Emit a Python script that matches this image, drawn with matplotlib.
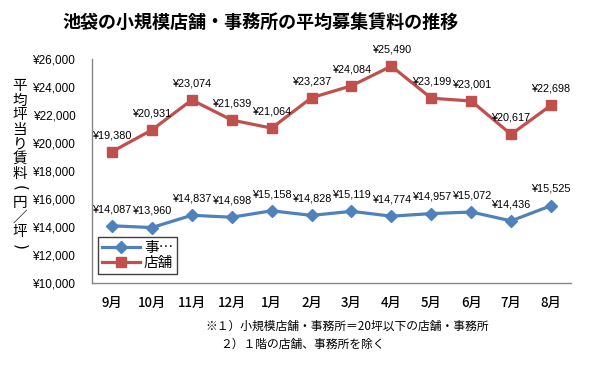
import numpy as np
import matplotlib
matplotlib.use("Agg")
import matplotlib.pyplot as plt

plt.rcParams['font.family'] = ['Liberation Sans', 'Noto Sans CJK JP', 'DejaVu Sans']
CJK = ['Noto Sans CJK JP', 'DejaVu Sans']

months = ['9月', '10月', '11月', '12月', '1月', '2月', '3月', '4月', '5月', '6月', '7月', '8月']
office = [14087, 13960, 14837, 14698, 15158, 14828, 15119, 14774, 14957, 15072, 14436, 15525]
shop = [19380, 20931, 23074, 21639, 21064, 23237, 24084, 25490, 23199, 23001, 20617, 22698]
yticks = np.arange(10000, 26001, 2000)

blue = '#4F81BD'
red = '#C0504D'

fig = plt.figure(figsize=(6, 3.66), dpi=100)
ax = fig.add_axes([92/600, 1-283/366, (571-92)/600, (283-59)/366])

x = np.arange(len(months))
ax.plot(x, office, color=blue, lw=2.3, marker='D', ms=6, label='事…')
ax.plot(x, shop, color=red, lw=2.3, marker='s', ms=7, label='店舗')

for xi, v in zip(x, office):
    ax.annotate('¥{:,}'.format(v), (xi, v), xytext=(0, 12), textcoords='offset points',
                ha='center', va='center', fontsize=7.8)
for xi, v in zip(x, shop):
    ax.annotate('¥{:,}'.format(v), (xi, v), xytext=(0, 12), textcoords='offset points',
                ha='center', va='center', fontsize=7.8)

ax.set_xlim(-0.5, len(months) - 0.5)
ax.set_ylim(10000, 26000)
ax.set_yticks(yticks)
ax.set_yticklabels(['¥{:,}'.format(t) for t in yticks], fontsize=8.5)
ax.set_xticks(x)
ax.set_xticklabels(months, family=CJK, fontsize=9.5, fontweight='medium')
ax.tick_params(length=0)
ax.tick_params(axis='y', pad=12)
ax.tick_params(axis='x', pad=9)
for s in ['top', 'right']:
    ax.spines[s].set_visible(False)
for s in ['left', 'bottom']:
    ax.spines[s].set_color('#868686')
    ax.spines[s].set_linewidth(1)

leg = ax.legend(loc='lower left', bbox_to_anchor=(6/479, 9/224), prop={'family': CJK, 'size': 10.5},
                fancybox=False, edgecolor='#404040', framealpha=1, handlelength=2.6,
                borderpad=0.25, labelspacing=0.1, handletextpad=0.3, borderaxespad=0)
leg.get_frame().set_linewidth(1)

fig.text(260/600, 1-22/366, '池袋の小規模店舗・事務所の平均募集賃料の推移', family=CJK,
         fontsize=13, fontweight='bold', ha='center', va='center')

# vertical y label, one character per line; brackets turned on their side
ylabel = ['平', '均', '坪', '当', 'り', '賃', '料', '(', '円', '／', '坪', ')']
for i, ch in enumerate(ylabel):
    if ch in '()':
        fig.text(20/600, 1-(86 + i*14.6)/366, ch, family='DejaVu Sans', fontsize=11,
                 ha='center', va='center', rotation=-90)
    else:
        fig.text(20/600, 1-(86 + i*14.6)/366, ch, family=CJK, fontsize=10.5,
                 ha='center', va='center')

fig.text(205/600, 1-326/366, '※１）小規模店舗・事務所＝20坪以下の店舗・事務所', family=CJK,
         fontsize=8.5, ha='left', va='center')
fig.text(220/600, 1-344/366, '２）１階の店舗、事務所を除く', family=CJK,
         fontsize=8.5, ha='left', va='center')

fig.savefig('out.png', dpi=100)
